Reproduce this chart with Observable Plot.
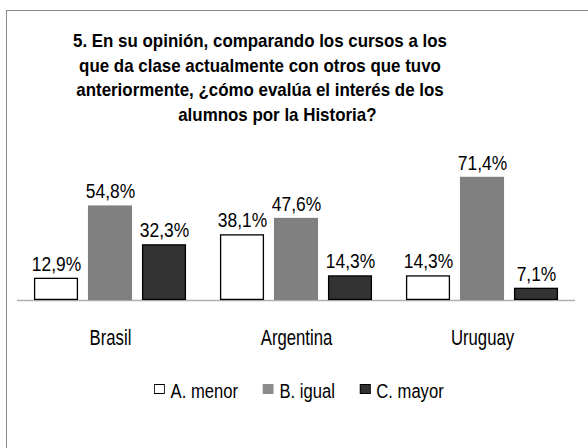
<!DOCTYPE html>
<html>
<head>
<meta charset="utf-8">
<script src="https://cdn.jsdelivr.net/npm/d3@7"></script>
<script src="https://cdn.jsdelivr.net/npm/@observablehq/plot@0.6"></script>
<style>
  html, body { margin: 0; padding: 0; background: #fff; }
  body { width: 588px; height: 448px; overflow: hidden; position: relative;
         font-family: "Liberation Sans", Arial, sans-serif; color: #000; }
  #frame { position: absolute; left: 6px; top: 10px; width: 700px; height: 600px;
           border-left: 1px solid #8a8a8a; border-top: 1px solid #8a8a8a; }
  #chart { position: absolute; left: 0; top: 0; }
  #title { position: absolute; left: 0; top: 29px; width: 520px; text-align: center;
           font-weight: bold; font-size: 19px; line-height: 24.7px; }
  #title div { transform: scaleX(0.89); transform-origin: 260px 0; white-space: nowrap; }
  #title .l4 { padding-left: 39px; }
  #legend { position: absolute; left: 154px; top: 380px; display: flex; align-items: center;
            font-size: 20px; transform: scaleX(0.83); transform-origin: 0 0; white-space: nowrap; }
  #legend .item { display: flex; align-items: center; margin-right: 30px; }
  #legend .sw { width: 13px; height: 10px; margin-right: 7px; box-sizing: border-box;
                position: relative; top: -3px; }
</style>
</head>
<body>
<div id="frame"></div>
<div id="chart"></div>
<div id="title">
  <div>5. En su opinión, comparando los cursos a los</div>
  <div>que da clase actualmente con otros que tuvo</div>
  <div>anteriormente, ¿cómo evalúa el interés de los</div>
  <div class="l4">alumnos por la Historia?</div>
</div>
<div id="legend"></div>
<script>
const countries = ["Brasil", "Argentina", "Uruguay"];
const series = ["A. menor", "B. igual", "C. mayor"];
const menor = [12.9, 38.1, 14.3];
const igual = [54.8, 47.6, 71.4];
const mayor = [32.3, 14.3, 7.1];
const fills = ["#ffffff", "#808080", "#333333"];
const strokes = ["#000000", "#808080", "#000000"];

const values = [menor, igual, mayor];
const data = [];
countries.forEach((c, i) => {
  series.forEach((s, j) => {
    data.push({country: c, series: s, value: values[j][i]});
  });
});
const fmt = v => v.toFixed(1).replace(".", ",") + "%";

const chart = Plot.plot({
  width: 588,
  height: 360,
  marginLeft: 17,
  marginRight: 13,
  marginTop: 162,
  marginBottom: 60,
  style: {fontFamily: '"Liberation Sans", Arial, sans-serif', fontSize: "20px", background: "transparent", color: "#000"},
  fx: {domain: countries, paddingInner: 0, paddingOuter: 0, label: null, axis: "bottom", tickSize: 0, tickPadding: 29},
  x: {domain: series, paddingInner: 0.19, paddingOuter: 0.31, axis: null},
  y: {domain: [0, 80], axis: null},
  marks: [
    Plot.ruleY([0], {stroke: "#b0b0b0", strokeWidth: 1.5}),
    Plot.barY(data, {fx: "country", x: "series", y: "value",
      fill: d => fills[series.indexOf(d.series)],
      stroke: d => strokes[series.indexOf(d.series)], strokeWidth: 1.3, inset: 0.6}),
    Plot.text(data, {fx: "country", x: "series", y: "value", text: d => fmt(d.value),
      dy: -14, fontSize: 20, fill: "#000"})
  ]
});

// condense the text horizontally (the reference uses a narrow typeface)
chart.querySelectorAll("text").forEach(t => {
  const isValue = /%$/.test(t.textContent);
  const s = isValue ? 0.87 : 0.76;
  if (!isValue) t.setAttribute("font-size", 22);
  const tr = t.getAttribute("transform");
  if (tr) {
    t.setAttribute("transform", tr + ` scale(${s},1)`);
  } else {
    const x = +(t.getAttribute("x") || 0), y = +(t.getAttribute("y") || 0);
    t.removeAttribute("x"); t.removeAttribute("y");
    t.setAttribute("transform", `translate(${x},${y}) scale(${s},1)`);
  }
});
document.getElementById("chart").appendChild(chart);

const legend = document.getElementById("legend");
series.forEach((s, j) => {
  const item = document.createElement("div");
  item.className = "item";
  const sw = document.createElement("div");
  sw.className = "sw";
  sw.style.background = j === 1 ? "#8c8c8c" : fills[j];
  sw.style.border = j === 1 ? "none" : "1px solid #000";
  item.appendChild(sw);
  const t = document.createElement("span");
  t.textContent = s;
  item.appendChild(t);
  legend.appendChild(item);
});
</script>
</body>
</html>
